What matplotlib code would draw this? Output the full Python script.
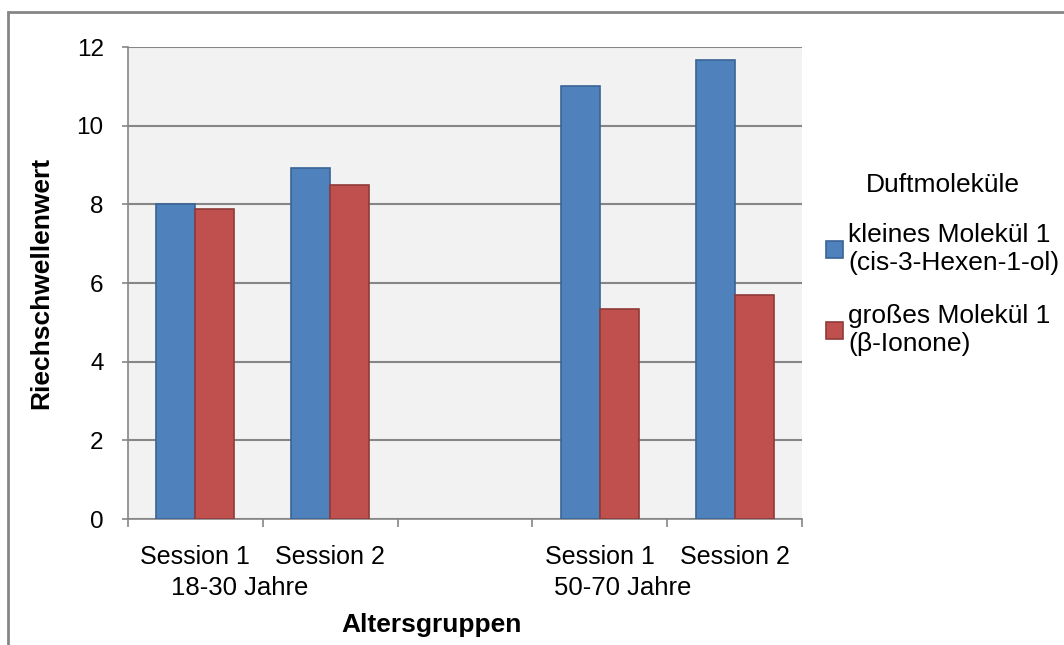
import numpy as np
import matplotlib.pyplot as plt
from matplotlib.patches import Rectangle

plt.rcParams['font.family'] = ['Liberation Sans', 'DejaVu Sans']

# data
categories = ['Session 1', 'Session 2', '', 'Session 1', 'Session 2']
groups = ['18-30 Jahre', '50-70 Jahre']
small_mol = [8.0, 8.92, np.nan, 11.02, 11.67]
large_mol = [7.88, 8.5, np.nan, 5.35, 5.69]
series_names = ['kleines Molekül 1\n(cis-3-Hexen-1-ol)', 'großes Molekül 1\n(β-Ionone)']

blue, blue_edge = '#4f81bd', '#3a6496'
red, red_edge = '#c0504d', '#8e3b39'
grid_c = '#868686'

fig = plt.figure(figsize=(10.64, 6.45), dpi=100)
ax = fig.add_axes([128 / 1064, 1 - 519 / 645, 674 / 1064, 472 / 645])
ax.set_facecolor('#f2f2f2')

x = np.arange(len(categories))
w = 0.29
ax.bar(x - w / 2, small_mol, w, color=blue, edgecolor=blue_edge, linewidth=1.2,
       label=series_names[0], zorder=3)
ax.bar(x + w / 2, large_mol, w, color=red, edgecolor=red_edge, linewidth=1.2,
       label=series_names[1], zorder=3)

ax.set_xlim(-0.5, len(categories) - 0.5)
ax.set_ylim(0, 12)
ax.set_yticks(np.arange(0, 13, 2))
ax.yaxis.grid(True, color=grid_c, linewidth=1.5, zorder=1)
ax.set_axisbelow(True)

ax.set_xticks(x)
ax.set_xticklabels(categories, fontsize=18)
ax.set_xticks(np.arange(-0.5, len(categories)), minor=True)
ax.tick_params(axis='x', which='major', length=0, pad=19)
ax.tick_params(axis='x', which='minor', length=6, width=1.2, color=grid_c)
ax.tick_params(axis='y', length=4.5, width=1.2, color=grid_c, labelsize=17.5, pad=13)

for s in ['top', 'right']:
    ax.spines[s].set_visible(False)
for s in ['left', 'bottom']:
    ax.spines[s].set_color(grid_c)
    ax.spines[s].set_linewidth(1.2)

# group labels under the sessions
ax.text(0.33, -69 / 472, groups[0], transform=ax.get_xaxis_transform(),
        ha='center', va='center', fontsize=18.5)
ax.text(3.17, -69 / 472, groups[1], transform=ax.get_xaxis_transform(),
        ha='center', va='center', fontsize=18.5)

fig.text(432 / 1064, 1 - 625 / 645, 'Altersgruppen', ha='center', va='center',
         fontsize=19, fontweight='bold')
fig.text(41 / 1064, 1 - 283 / 645, 'Riechschwellenwert', ha='center', va='center',
         rotation=90, fontsize=19, fontweight='bold')

leg = ax.legend(title='Duftmoleküle', loc='upper left',
                bbox_to_anchor=((826 - 128) / 674, (519 - 173) / 472),
                frameon=False, fontsize=19, title_fontsize=19, handlelength=0.65,
                handleheight=0.65, handletextpad=0.2, labelspacing=1.1, borderpad=0,
                borderaxespad=0)
leg._legend_box.sep = 19

# outer chart border
fig.patches.append(Rectangle((8 / 1064, -0.1), 1.2, 1 - 12 / 645 + 0.1, transform=fig.transFigure,
                             fill=False, edgecolor=grid_c, linewidth=2))

fig.savefig('out.png', dpi=100)
